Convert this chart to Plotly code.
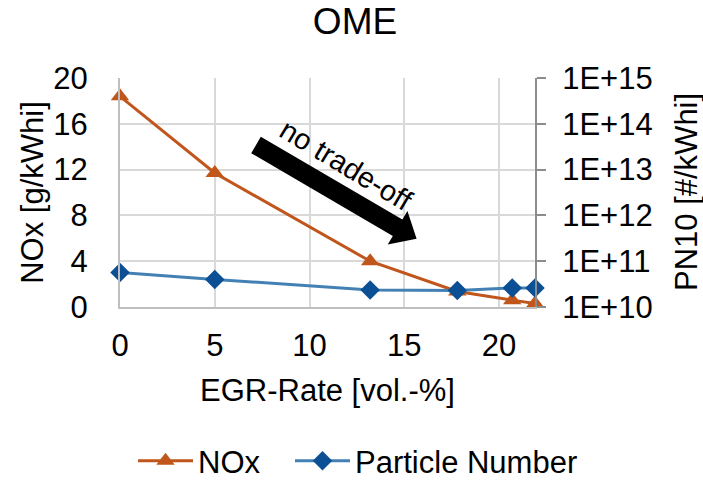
import math
import plotly.graph_objects as go

# ---- data ----
egr_rate = [0, 5.0, 13.2, 17.8, 20.7, 21.9]
nox = [18.4, 11.7, 4.0, 1.35, 0.6, 0.3]
particle_number = [5.7e10, 4.0e10, 2.35e10, 2.3e10, 2.6e10, 2.6e10]
x_ticks = [0, 5, 10, 15, 20]
y_left_ticks = [0, 4, 8, 12, 16, 20]
y_right_tickvals = [1e10, 1e11, 1e12, 1e13, 1e14, 1e15]
y_right_ticktext = ["1E+10", "1E+11", "1E+12", "1E+13", "1E+14", "1E+15"]

FONT = "Liberation Sans, Arial, sans-serif"
FS = 31
W, H = 703, 481
L, R, T, B = 120, 703 - 535, 78, 481 - 307
PW, PH = W - L - R, H - T - B

NOX_C = "#C0561B"
PN_LINE = "#4381B5"
PN_MARK = "#0B4F94"

fig = go.Figure()
fig.add_trace(go.Scatter(
    x=egr_rate, y=nox, name="NOx", mode="lines+markers",
    line=dict(color=NOX_C, width=3),
    marker=dict(symbol="triangle-up", size=16, color=NOX_C),
    cliponaxis=False, legend="legend",
))
fig.add_trace(go.Scatter(
    x=egr_rate, y=particle_number, name="Particle Number", mode="lines+markers",
    yaxis="y2",
    line=dict(color=PN_LINE, width=3),
    marker=dict(symbol="diamond", size=15, color=PN_MARK),
    cliponaxis=False, legend="legend2",
))


def px2paper(px, py):
    return (px - L) / PW, (H - B - py) / PH


# block arrow (annotation graphic), defined in pixel space
sx, sy = 256, 145
ang = math.radians(30.3)
ux, uy = math.cos(ang), math.sin(ang)
nx, ny = -uy, ux
hw, headw, shaft_len, tip_len = 9.5, 19.5, 164, 186
pts = [
    (sx + hw * nx, sy + hw * ny),
    (sx + shaft_len * ux + hw * nx, sy + shaft_len * uy + hw * ny),
    (sx + shaft_len * ux + headw * nx, sy + shaft_len * uy + headw * ny),
    (sx + tip_len * ux, sy + tip_len * uy),
    (sx + shaft_len * ux - headw * nx, sy + shaft_len * uy - headw * ny),
    (sx + shaft_len * ux - hw * nx, sy + shaft_len * uy - hw * ny),
    (sx - hw * nx, sy - hw * ny),
]
path = "M " + " L ".join("%.5f,%.5f" % px2paper(*p) for p in pts) + " Z"
fig.add_shape(type="path", path=path, xref="paper", yref="paper",
              fillcolor="black", line=dict(color="black", width=0))

tx, ty = px2paper(346, 165)
fig.add_annotation(text="no trade-off", x=tx, y=ty, xref="paper", yref="paper",
                   showarrow=False, textangle=31,
                   font=dict(family=FONT, size=29, color="black"))

# right axis title
rx, ry = px2paper(686, 192)
fig.add_annotation(text="PN10 [#/kWhi]", x=rx, y=ry, xref="paper", yref="paper",
                   showarrow=False, textangle=-90, xanchor="center", yanchor="middle",
                   font=dict(family=FONT, size=FS, color="black"))

l1x, ly = px2paper(133, 461)
l2x, _ = px2paper(290, 461)
legend_style = dict(orientation="h", xanchor="left", y=ly, yanchor="middle",
                    font=dict(size=FS), itemwidth=55, bgcolor="rgba(0,0,0,0)")

fig.update_layout(
    width=W, height=H,
    margin=dict(l=L, r=R, t=T, b=B, autoexpand=False),
    paper_bgcolor="white", plot_bgcolor="white",
    font=dict(family=FONT, size=FS, color="black"),
    title=dict(text="OME", x=355 / W, xanchor="center", y=1 - 21 / H, yanchor="middle",
               yref="container", font=dict(size=37, family=FONT, color="black")),
    xaxis=dict(
        range=[0, 21.9], tickvals=x_ticks, showgrid=True, gridcolor="#D9D9D9", gridwidth=2,
        showline=True, linecolor="#BFBFBF", linewidth=2, zeroline=False,
        ticks="", ticklabelstandoff=10, automargin=False,
        title=dict(text="EGR-Rate [vol.-%]", standoff=17, font=dict(size=FS)),
        tickfont=dict(size=FS),
    ),
    yaxis=dict(
        range=[0, 20], tickvals=y_left_ticks, showgrid=True, gridcolor="#D9D9D9", gridwidth=2,
        showline=True, linecolor="#BFBFBF", linewidth=2, zeroline=False,
        ticks="", ticklabelstandoff=24, automargin=False,
        title=dict(text="NOx [g/kWhi]", standoff=0, font=dict(size=FS)),
        tickfont=dict(size=FS),
    ),
    yaxis2=dict(
        type="log", range=[10, 15], overlaying="y", side="right",
        tickvals=y_right_tickvals, ticktext=y_right_ticktext,
        showgrid=False, showline=True, linecolor="#8C8C8C", linewidth=2,
        ticks="outside", ticklen=9, tickcolor="#8C8C8C", tickwidth=2,
        ticklabelstandoff=10, zeroline=False, automargin=False,
        tickfont=dict(size=FS),
    ),
    legend=dict(x=l1x, **legend_style),
    legend2=dict(x=l2x, **legend_style),
    showlegend=True,
)

fig.write_html("out.html", config={"displayModeBar": False},
               post_script="document.body.style.margin='0';document.body.style.overflow='hidden';")
